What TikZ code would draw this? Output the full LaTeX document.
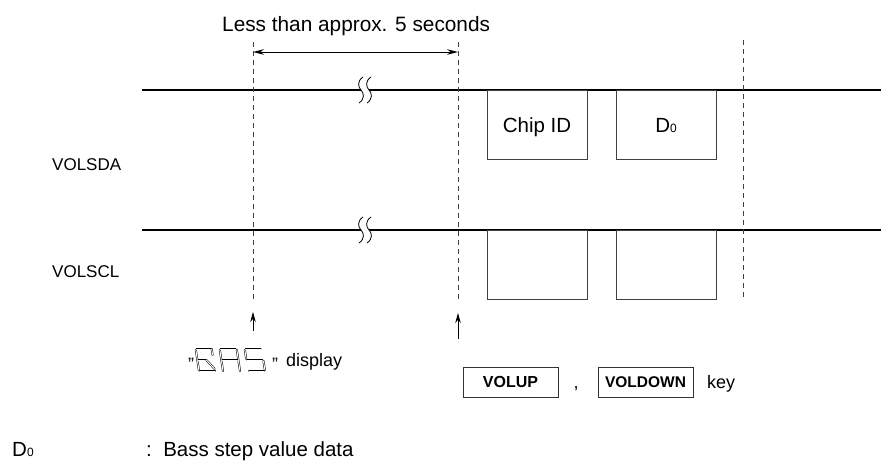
\documentclass[tikz,border=0pt]{standalone}
\usepackage{fontspec}
\setmainfont{Liberation Sans}
\usetikzlibrary{arrows.meta}
\tikzset{
  sig/.style={line width=2.8pt, black},
  pulse/.style={line width=0.9pt, black!75},
  guide/.style={line width=0.8pt, black!75, dash pattern=on 5pt off 4pt},
  arr/.style={line width=0.9pt, -{Stealth[length=10pt,width=5.5pt]}},
  keybox/.style={draw, line width=0.9pt, black!80, minimum width=95pt, minimum height=30pt, inner sep=0pt, text=black},
  lbl/.style={inner sep=0pt, font=\fontsize{18}{21}\selectfont},
  seg/.style={line width=0.5pt, double=white, double distance=1pt, line cap=round, line join=round},
}
\newcommand{\dsub}{D{\fontsize{12}{12}\selectfont 0}}
\begin{document}
\begin{tikzpicture}[x=1pt,y=-1pt]
\useasboundingbox (0,0) rectangle (881,464);
% signal lines with break marks
\coordinate (sdaL) at (142,90);
\coordinate (sdaB1) at (361,90);
\coordinate (sdaB2) at (369,90);
\coordinate (sdaR) at (881,90);
\coordinate (sclL) at (142,230);
\coordinate (sclB1) at (361,230);
\coordinate (sclB2) at (369,230);
\coordinate (sclR) at (881,230);
\draw[sig] (sdaL) -- (sdaB1);
\draw[sig] (sdaB2) -- (sdaR);
\draw[sig] (sclL) -- (sclB1);
\draw[sig] (sclB2) -- (sclR);
\foreach \yy in {90,230}{
  \foreach \xx in {361,369}{
    \draw[line width=0.8pt] (\xx+2,\yy-13) .. controls (\xx-4,\yy-9) and (\xx-3,\yy-3) .. (\xx,\yy)
      .. controls (\xx+3,\yy+3) and (\xx+4,\yy+9) .. (\xx-2,\yy+13);
  }
}
% pulses
\draw[pulse] (487,90) rectangle (587,159);
\draw[pulse] (616,90) rectangle (716,159);
\draw[pulse] (487,230) rectangle (587,299);
\draw[pulse] (616,230) rectangle (716,299);
\node[lbl, anchor=base, font=\fontsize{20.5}{23}\selectfont] (chip) at (537,132) {Chip ID};
\node[lbl, anchor=base, font=\fontsize{20.5}{23}\selectfont] (d0) at (666,132) {\dsub};
% labels
\node[lbl, anchor=base west, font=\fontsize{17}{20}\selectfont] (sda) at (52,170) {VOLSDA};
\node[lbl, anchor=base west, font=\fontsize{17}{20}\selectfont] (scl) at (52,277) {VOLSCL};
% guides
\coordinate (g1t) at (253,42); \coordinate (g1b) at (253,300);
\coordinate (g2t) at (458,42); \coordinate (g2b) at (458,300);
\coordinate (g3t) at (743,40); \coordinate (g3b) at (743,300);
\draw[guide] (g1t) -- (g1b);
\draw[guide] (g2t) -- (g2b);
\draw[guide] (g3t) -- (g3b);
% duration
\coordinate (d1) at (253,52); \coordinate (d2) at (458,52);
\draw[line width=0.9pt, {Stealth[length=11pt,width=5.5pt]}-{Stealth[length=11pt,width=5.5pt]}] (d1) -- (d2);
\node[inner sep=0pt, anchor=base west, font=\fontsize{20.8}{23}\selectfont] (dur) at (222,31) {Less than approx. 5 seconds};
% event arrows
\coordinate (a1s) at (253,331); \coordinate (a1e) at (253,312);
\coordinate (a2s) at (458,339); \coordinate (a2e) at (458,313);
\draw[arr] (a1s) -- (a1e);
\draw[arr] (a2s) -- (a2e);
% display text
\node[lbl, anchor=base west] (q1) at (188,370) {"};
\node[lbl, anchor=base west] (q2) at (272,370) {"};
\node[lbl, anchor=base west] (disp) at (286,366) {display};
% seven-segment "bAS" (slanted)
\begin{scope}[shift={(199,371)}, xslant=-0.15]
  % first glyph (b-like)
  \draw[seg] (0,-1) -- (0,-21);
  \draw[seg] (1,-22) -- (16,-22);
  \draw[seg] (1,-11) -- (9,-11);
  \draw[seg] (9,-11) -- (16,-2);
  \draw[seg] (16,-22) -- (16,-16);
  \draw[seg] (1,0) -- (16,0);
  % A
  \draw[seg] (24,0) -- (24,-21);
  \draw[seg] (25,-22) -- (40,-22);
  \draw[seg] (41,-21) -- (41,0);
  \draw[seg] (25,-11) -- (40,-11);
  % S
  \draw[seg] (49,-12) -- (49,-21);
  \draw[seg] (50,-22) -- (65,-22);
  \draw[seg] (50,-11) -- (65,-11);
  \draw[seg] (66,-10) -- (66,-1);
  \draw[seg] (50,0) -- (65,0);
\end{scope}
% key boxes
\node[keybox, font=\fontsize{16}{18}\selectfont\bfseries] (up) at (510.5,382) {VOLUP};
\node[keybox, font=\fontsize{15.5}{18}\selectfont\bfseries] (down) at (645.5,382) {VOLDOWN};
\node[lbl, anchor=base] (comma) at (576,388) {,};
\node[lbl, anchor=base west] (key) at (707,388) {key};
% legend
\node[lbl, anchor=base west, font=\fontsize{20.5}{23}\selectfont] (leg) at (12,456) {\dsub};
\node[lbl, anchor=base west, font=\fontsize{20.5}{23}\selectfont] (legt) at (146,456) {:\ \ Bass step value data};
\end{tikzpicture}
\end{document}
